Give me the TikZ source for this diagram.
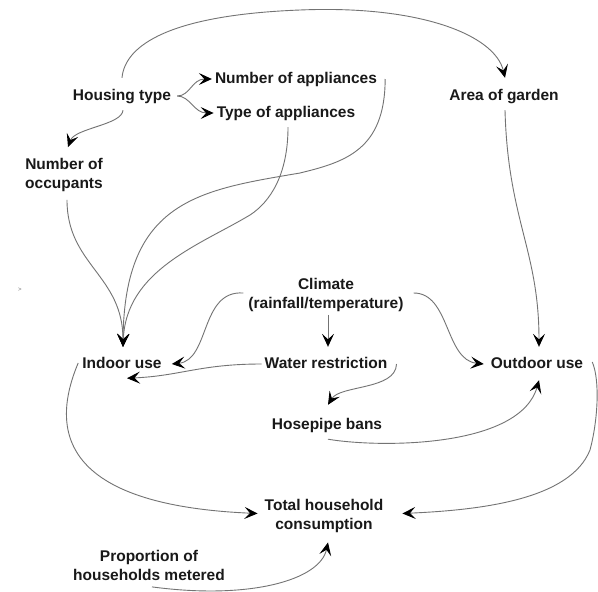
\documentclass[tikz,border=0pt]{standalone}
\usepackage{fontspec}
\setmainfont{Liberation Sans}
\usetikzlibrary{arrows.meta}

\begin{document}
\begin{tikzpicture}[
  x=1pt, y=-1pt,
  font=\fontsize{15.5}{19}\selectfont\bfseries,
  lbl/.style={inner sep=0pt, text height=11pt, text depth=3pt, text=black!90},
  lbltwo/.style={inner sep=0pt, align=center, text=black!90},
  arr/.style={-{Stealth[length=13pt, width=12pt, inset=5.5pt, black]}, draw=black!55, line width=0.9pt},
]
  \path[use as bounding box, fill=white] (0,0) rectangle (598,592);

  % factors
  \node[lbl] (hous) at (122,96) {Housing type};
  \node[lbl] (napp) at (296,79) {Number of appliances};
  \node[lbl] (tapp) at (286,113) {Type of appliances};
  \node[lbl] (garden) at (504,96) {Area of garden};
  \node[lbltwo] (occ) at (64,175) {Number of\\occupants};
  \node[lbltwo] (clim) at (326,295) {Climate\\(rainfall/temperature)};
  \node[lbl] (indoor) at (122,364) {Indoor use};
  \node[lbl] (water) at (326,364) {Water restriction};
  \node[lbl] (outdoor) at (537,364) {Outdoor use};
  \node[lbl] (hose) at (327,425) {Hosepipe bans};
  \node[lbltwo] (total) at (324,515.5) {Total household\\consumption};
  \node[lbltwo] (prop) at (149,565.5) {Proportion of\\households metered};
  \node[font=\fontsize{6}{6}\selectfont, text=black!55, inner sep=0pt] (speck) at (20,290) {>};

  % housing type links
  \draw[arr] ([yshift=11pt]hous.north) .. controls (125,45) and (170,15) .. (300,10)
    .. controls (420,5) and (495,35) .. ([xshift=1pt,yshift=11pt]garden.north);
  \draw[arr] ([xshift=6pt]hous.east) .. controls (190,96) and (192,79) .. ([xshift=-3pt]napp.west);
  \draw[arr] ([xshift=6pt]hous.east) .. controls (190,96) and (194,113) .. ([xshift=-3pt]tapp.west);
  \draw[arr] ([xshift=1pt,yshift=-7pt]hous.south) .. controls (122,125) and (75,128) .. ([xshift=4pt,yshift=11pt]occ.north);

  % into indoor use
  \draw[arr] ([xshift=3pt,yshift=-8pt]occ.south) .. controls (67,265) and (123,275) .. ([xshift=1pt,yshift=10pt]indoor.north);
  \draw[arr] ([xshift=8pt]napp.east) .. controls (385,150) and (345,162) .. (300,173)
    .. controls (200,190) and (124,200) .. ([xshift=1pt,yshift=10pt]indoor.north);
  \draw[arr] ([xshift=2pt,yshift=-7pt]tapp.south) .. controls (288,175) and (270,202) .. (250,215)
    .. controls (200,245) and (126,270) .. ([xshift=1pt,yshift=10pt]indoor.north);

  % into outdoor use
  \draw[arr] ([xshift=1pt,yshift=-7pt]garden.south) .. controls (508,220) and (539,250) .. ([xshift=2pt,yshift=10pt]outdoor.north);

  % climate
  \draw[arr] ([xshift=-5pt,yshift=2pt]clim.west) .. controls (200,290) and (210,360) .. ([xshift=10pt]indoor.east);
  \draw[arr] ([xshift=2pt,yshift=-3pt]clim.south) -- ([xshift=2pt,yshift=10pt]water.north);
  \draw[arr] ([xshift=10pt,yshift=2pt]clim.east) .. controls (450,293) and (445,360) .. ([xshift=-7pt]outdoor.west);

  % water restriction
  \draw[arr] ([xshift=-3pt]water.west) .. controls (200,364) and (180,376) .. ([xshift=5pt,yshift=-7pt]indoor.south);
  \draw[arr] ([xshift=9pt]water.east) .. controls (396,390) and (340,385) .. ([xshift=1pt,yshift=13pt]hose.north);
  \draw[arr] ([xshift=1pt,yshift=-7pt]hose.south) .. controls (380,448) and (520,448) .. ([xshift=2pt,yshift=-9pt]outdoor.south);

  % total consumption
  \draw[arr] ([xshift=-4pt,yshift=1pt]indoor.west) .. controls (50,430) and (60,505) .. ([xshift=-7pt,yshift=2pt]total.west);
  \draw[arr] ([xshift=9pt,yshift=2pt]outdoor.east) .. controls (600,380) and (598,420) .. (590,450)
    .. controls (570,500) and (480,510) .. ([xshift=19pt,yshift=2pt]total.east);
  \draw[arr] ([xshift=3pt,yshift=-6pt]prop.south) .. controls (250,600) and (320,580) .. ([xshift=4pt,yshift=-10pt]total.south);
\end{tikzpicture}
\end{document}
